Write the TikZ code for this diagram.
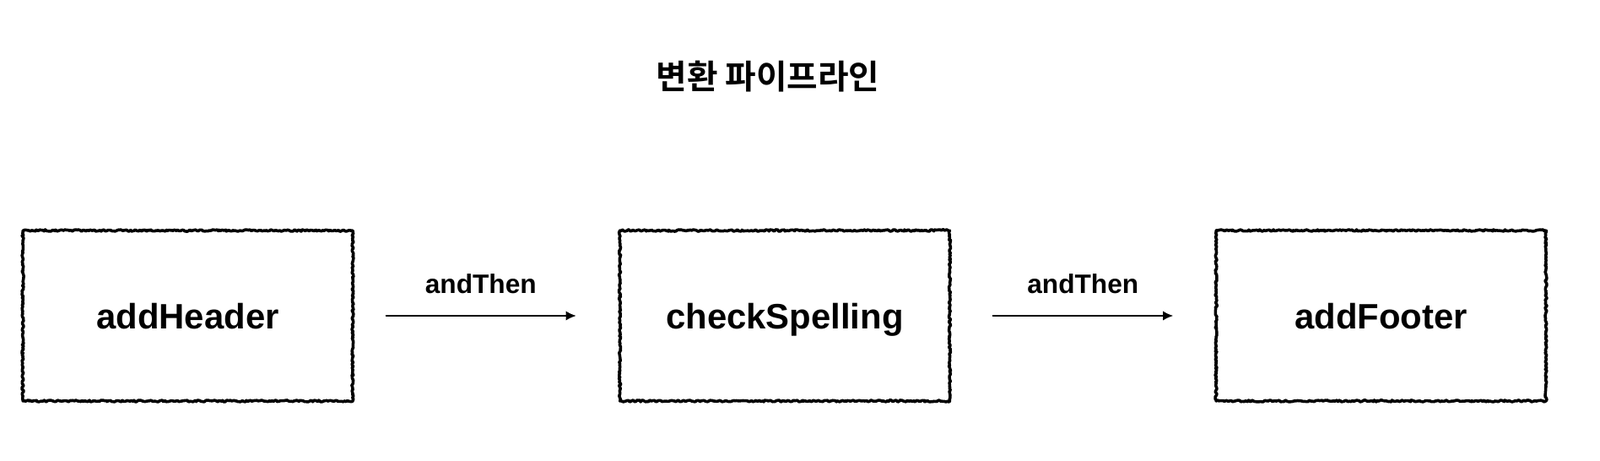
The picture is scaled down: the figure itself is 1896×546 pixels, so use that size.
\documentclass[tikz,border=0pt]{standalone}
\usepackage{fontspec}
\setmainfont{Liberation Sans}
\newfontfamily\krfont{Noto Sans CJK KR}[BoldFont={Noto Sans CJK KR Bold}]
\usetikzlibrary{arrows.meta,decorations.pathmorphing}

\begin{document}
\begin{tikzpicture}[x=0.02cm,y=0.02cm,
    stage/.style={draw,line width=2pt,line join=round,decorate,
      decoration={random steps,segment length=1pt,amplitude=0.6pt},
      minimum width=7.82cm,minimum height=4.04cm,inner sep=0pt,
      text height=17.4pt,text depth=0pt,
      font=\fontsize{23.8}{28}\selectfont\bfseries},
    link/.style={line width=1.1pt,-{Latex[length=7pt,width=6.5pt]}},
    linklabel/.style={above=11pt,font=\fontsize{18}{21}\selectfont\bfseries}]
    \useasboundingbox (0,0) rectangle (1896,546);
    \node (title) [font=\krfont\fontsize{22.6}{27}\selectfont\bfseries] at (910,455.5) {변환 파이프라인};
    \node (hdr) [stage] at (222.5,172) {addHeader};
    \node (spell) [stage] at (930,172) {checkSpelling};
    \node (ftr) [stage] at (1636.5,172) {addFooter};
    \draw[link,shorten <=0.74cm,shorten >=1cm] (hdr) -- (spell)
      node [linklabel,midway,xshift=-0.13cm] (then1) {andThen};
    \draw[link,shorten <=0.98cm,shorten >=0.98cm] (spell) -- (ftr)
      node [linklabel,midway] (then2) {andThen};
  \end{tikzpicture}
\end{document}
